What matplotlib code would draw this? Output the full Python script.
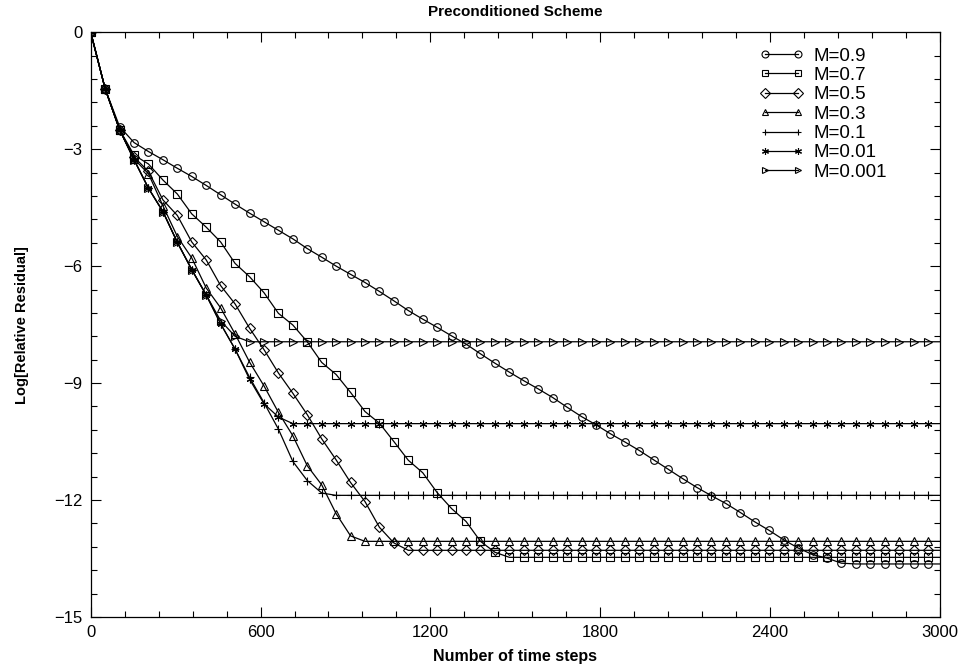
import numpy as np
import matplotlib
matplotlib.use("Agg")
import matplotlib.pyplot as plt
from matplotlib.ticker import MultipleLocator

plt.rcParams["font.family"] = ["Liberation Sans", "DejaVu Sans"]

# Time steps at the plotted markers (one every 51 steps), lines run on to 3000
steps = list(np.arange(0, 3000, 51)) + [3000]

labels = ["M=0.9", "M=0.7", "M=0.5", "M=0.3", "M=0.1", "M=0.01", "M=0.001"]
markers = ["o", "s", "D", "^", "+", (6, 2, 0), ">"]

# Log residual at each marker until the curve levels off
m09 = [0, -1.45, -2.42, -2.83, -3.06, -3.27, -3.49, -3.70, -3.93, -4.17, -4.41,
       -4.64, -4.86, -5.08, -5.30, -5.55, -5.77, -6.00, -6.21, -6.42, -6.65,
       -6.89, -7.14, -7.36, -7.57, -7.79, -8.00, -8.25, -8.49, -8.72, -8.94,
       -9.15, -9.37, -9.62, -9.86, -10.07, -10.30, -10.51, -10.73, -10.97,
       -11.21, -11.45, -11.68, -11.89, -12.09, -12.32, -12.56, -12.78, -13.02,
       -13.23, -13.40, -13.49, -13.62]
m07 = [0, -1.45, -2.50, -3.15, -3.38, -3.79, -4.15, -4.66, -5.00, -5.38, -5.93,
       -6.27, -6.68, -7.21, -7.51, -7.94, -8.47, -8.78, -9.24, -9.73, -10.03,
       -10.50, -10.98, -11.30, -11.81, -12.22, -12.55, -13.06, -13.34]
m05 = [0, -1.45, -2.50, -3.20, -3.57, -4.30, -4.70, -5.38, -5.84, -6.50, -6.97,
       -7.59, -8.14, -8.74, -9.26, -9.81, -10.43, -10.97, -11.55, -12.04,
       -12.70, -13.10]
m03 = [0, -1.45, -2.50, -3.25, -3.63, -4.45, -5.24, -5.79, -6.56, -7.07, -7.74,
       -8.46, -9.07, -9.75, -10.35, -11.12, -11.61, -12.35, -12.92]
m01 = [0, -1.45, -2.50, -3.27, -4.00, -4.60, -5.39, -6.09, -6.74, -7.48, -8.13,
       -8.85, -9.50, -10.18, -11.01, -11.50, -11.82]
m001 = [0, -1.45, -2.50, -3.27, -4.00, -4.60, -5.39, -6.09, -6.74, -7.48, -8.13,
        -8.90, -9.53, -9.87]
m0001 = [0, -1.45, -2.50, -3.27, -4.00, -4.60, -5.39, -6.09, -6.74, -7.40, -7.80]

# Level where each curve flattens out
plateaus = [-13.64, -13.47, -13.29, -13.06, -11.88, -10.04, -7.94]

decays = [m09, m07, m05, m03, m01, m001, m0001]

fig = plt.figure(figsize=(9.65, 6.66), dpi=100)
ax = fig.add_axes([0.094, 0.0736, 0.880, 0.878])

n = len(steps)
for vals, flat, lab, mk in zip(decays, plateaus, labels, markers):
    y = vals + [flat] * (n - len(vals))
    ax.plot(steps, y, color="black", lw=0.9, marker=mk, ms=5.5, mew=0.8,
            mfc="none", mec="black", markevery=slice(0, n - 1), label=lab)

ax.set_xlim(0, 3000)
ax.set_ylim(-15, 0)
ax.xaxis.set_major_locator(MultipleLocator(600))
ax.xaxis.set_minor_locator(MultipleLocator(120))
ax.yaxis.set_major_locator(MultipleLocator(3))
ax.yaxis.set_minor_locator(MultipleLocator(0.6))
ax.tick_params(which="both", direction="in", top=True, right=True,
               labelsize=12, width=0.8)
ax.tick_params(which="major", length=7, pad=6)
ax.tick_params(which="minor", length=4)
for sp in ax.spines.values():
    sp.set_linewidth(0.9)

ax.set_title("Preconditioned Scheme", fontsize=11, fontweight="bold", pad=12)
ax.set_xlabel("Number of time steps", fontsize=11.5, fontweight="bold", labelpad=6)
ax.set_ylabel("Log[Relative Residual]", fontsize=10.5, fontweight="bold", labelpad=18)

leg = ax.legend(loc="upper left", bbox_to_anchor=(0.776, 0.99), frameon=False,
                borderpad=0, numpoints=2, handlelength=2.4, fontsize=13.5,
                labelspacing=0.12, handletextpad=0.48)
for h in leg.legend_handles:
    h.set_markersize(5)

fig.savefig("out.png", dpi=100)
